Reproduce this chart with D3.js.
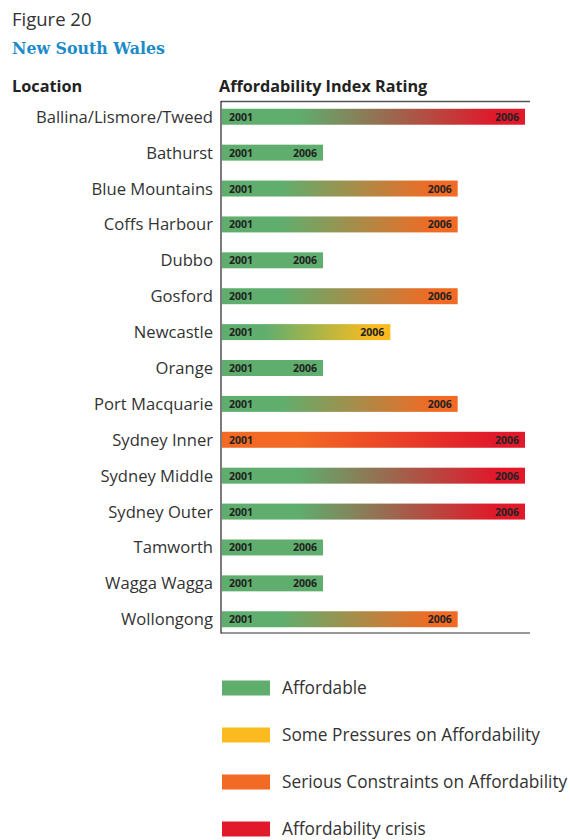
<!DOCTYPE html>
<html>
<head>
<meta charset="utf-8">
<script src="https://cdn.jsdelivr.net/npm/d3@7/dist/d3.min.js"></script>
<style>
  html, body { margin: 0; padding: 0; background: #fff; }
  svg { display: block; }
</style>
</head>
<body>
<svg id="chart" width="570" height="840"></svg>
<script>
// Locations, top to bottom
const locations = [
  "Ballina/Lismore/Tweed", "Bathurst", "Blue Mountains", "Coffs Harbour", "Dubbo",
  "Gosford", "Newcastle", "Orange", "Port Macquarie", "Sydney Inner",
  "Sydney Middle", "Sydney Outer", "Tamworth", "Wagga Wagga", "Wollongong"
];
// Affordability rating: 1 Affordable, 2 Some Pressures, 3 Serious Constraints, 4 Crisis
const rating2001 = [1, 1, 1, 1, 1, 1, 1, 1, 1, 3, 1, 1, 1, 1, 1];
const rating2006 = [4, 1, 3, 3, 1, 3, 2, 1, 3, 4, 4, 4, 1, 1, 3];
const yearLabels = ["2001", "2006"];
const ratingNames = [
  "Affordable", "Some Pressures on Affordability",
  "Serious Constraints on Affordability", "Affordability crisis"
];
const ratingColors = ["#5fae6e", "#fbbb1f", "#f26a24", "#e0192b"];

const svg = d3.select("#chart");
const font = "'Open Sans', 'Noto Sans', sans-serif";

// Headings
svg.append("text").attr("x", 12).attr("y", 26)
  .attr("font-family", font).attr("font-size", 18.5).attr("fill", "#333")
  .text("Figure 20");
svg.append("text").attr("x", 12).attr("y", 54)
  .attr("font-family", "'DejaVu Serif', serif").attr("font-weight", "bold")
  .attr("font-size", 15.8).attr("fill", "#1a8ac9")
  .text("New South Wales");
svg.append("text").attr("x", 12).attr("y", 92)
  .attr("font-family", font).attr("font-weight", "bold").attr("font-size", 16.3).attr("fill", "#222")
  .text("Location");
svg.append("text").attr("x", 219).attr("y", 92)
  .attr("font-family", font).attr("font-weight", "bold").attr("font-size", 16.2).attr("fill", "#222")
  .text("Affordability Index Rating");

// Scales
const x = d3.scaleLinear().domain([-0.5, 4]).range([222, 525]);
const y = d3.scaleBand().domain(locations).range([98, 638]).paddingInner(0.555).paddingOuter(0.3);
const color = d => ratingColors[d - 1];

// Axis frame
const x0 = 221, xEnd = 530;
svg.append("line").attr("x1", x0).attr("x2", xEnd).attr("y1", 101.5).attr("y2", 101.5)
  .attr("stroke", "#555").attr("stroke-width", 1.5);
svg.append("line").attr("x1", x0).attr("x2", xEnd).attr("y1", 633).attr("y2", 633)
  .attr("stroke", "#333").attr("stroke-width", 1.2);
svg.append("line").attr("x1", x0).attr("x2", x0).attr("y1", 101).attr("y2", 633.5)
  .attr("stroke", "#222").attr("stroke-width", 1.2);

// Gradients from the 2001 rating colour to the 2006 rating colour
const defs = svg.append("defs");
locations.forEach((loc, i) => {
  const x1 = x(-0.5), x2 = x(rating2006[i]);
  const len = x2 - x1;
  const g = defs.append("linearGradient")
    .attr("id", "grad" + i)
    .attr("gradientUnits", "userSpaceOnUse")
    .attr("x1", x1 + len * 0.25).attr("x2", x1 + len * 0.9)
    .attr("y1", 0).attr("y2", 0);
  g.append("stop").attr("offset", 0).attr("stop-color", color(rating2001[i]));
  g.append("stop").attr("offset", 1).attr("stop-color", color(rating2006[i]));
});

// Location labels
svg.append("g").selectAll("text").data(locations).join("text")
  .attr("x", 213)
  .attr("y", d => y(d) + y.bandwidth() / 2)
  .attr("dy", "0.36em")
  .attr("text-anchor", "end")
  .attr("font-family", font).attr("font-size", 16.6).attr("fill", "#333")
  .text(d => d);

// Bars
svg.append("g").selectAll("rect").data(locations).join("rect")
  .attr("x", x(-0.5))
  .attr("y", d => y(d))
  .attr("width", (d, i) => x(rating2006[i]) - x(-0.5))
  .attr("height", y.bandwidth())
  .attr("fill", (d, i) => "url(#grad" + i + ")");

// Year labels inside bars
const yl = svg.append("g").attr("font-family", font).attr("font-weight", "bold")
  .attr("font-size", 10.5).attr("fill", "#222");
yl.selectAll("text.start").data(locations).join("text").attr("class", "start")
  .attr("x", 229)
  .attr("y", d => y(d) + y.bandwidth() / 2)
  .attr("dy", "0.38em")
  .text(yearLabels[0]);
yl.selectAll("text.end").data(locations).join("text").attr("class", "end")
  .attr("x", (d, i) => x(rating2006[i]) - 6)
  .attr("y", d => y(d) + y.bandwidth() / 2)
  .attr("dy", "0.38em")
  .attr("text-anchor", "end")
  .text(yearLabels[1]);

// Legend
const legend = svg.append("g").selectAll("g").data(ratingNames).join("g")
  .attr("transform", (d, i) => `translate(222, ${680.5 + i * 47})`);
legend.append("rect").attr("width", 48).attr("height", 15)
  .attr("fill", (d, i) => ratingColors[i]);
legend.append("text").attr("x", 60).attr("y", 7.5).attr("dy", "0.36em")
  .attr("font-family", font).attr("font-size", 17.3).attr("fill", "#333")
  .text(d => d);
</script>
</body>
</html>
